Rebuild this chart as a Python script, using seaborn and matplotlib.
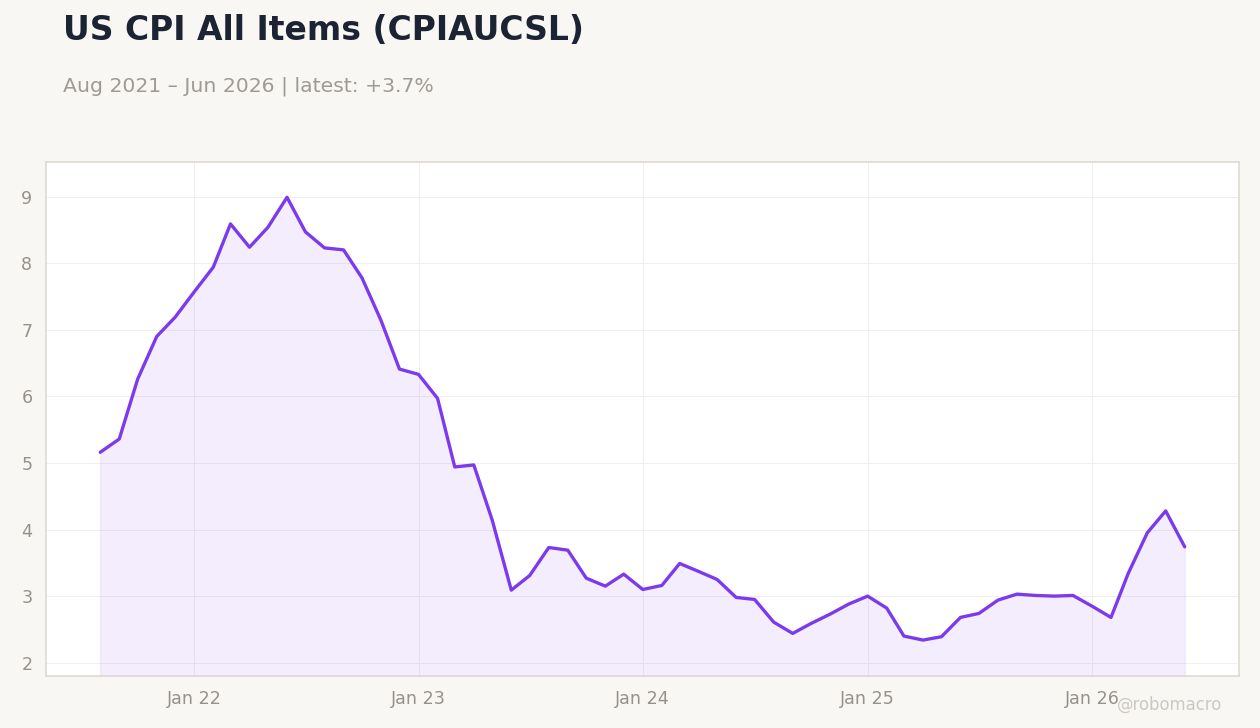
import pandas as pd
import matplotlib.pyplot as plt
import matplotlib.dates as mdates
import seaborn as sns

# CPI YoY %, monthly Aug 2021 .. Jun 2026
start_month = "2021-08-01"
cpi_yoy = [5.16, 5.36, 6.26, 6.90, 7.19, 7.57, 7.94, 8.59, 8.24, 8.54,
           8.99, 8.47, 8.23, 8.20, 7.78, 7.14, 6.41, 6.33, 5.97, 4.94,
           4.97, 4.14, 3.09, 3.31, 3.73, 3.69, 3.27, 3.15, 3.33, 3.10,
           3.16, 3.49, 3.37, 3.25, 2.98, 2.95, 2.61, 2.44, 2.59, 2.73,
           2.88, 3.00, 2.82, 2.40, 2.34, 2.39, 2.68, 2.74, 2.94, 3.03,
           3.01, 3.00, 3.01, 2.85, 2.68, 3.34, 3.95, 4.28, 3.74]
y_ticks = [2, 3, 4, 5, 6, 7, 8, 9]

title = "US CPI All Items (CPIAUCSL)"
subtitle = "Aug 2021 \u2013 Jun 2026 | latest: +3.7%"
watermark = "@robomacro"

purple = "#7c3aed"
bg = "#f8f7f4"

df = pd.DataFrame({
    "date": pd.date_range(start_month, periods=len(cpi_yoy), freq="MS"),
    "value": cpi_yoy,
})

sns.set_style("whitegrid", {
    "grid.color": "#f1efec",
    "axes.edgecolor": "#ddd8d0",
    "axes.facecolor": "white",
    "figure.facecolor": bg,
})
plt.rcParams["font.family"] = ["DejaVu Sans"]

fig = plt.figure(figsize=(9, 5.2), dpi=140)
ax = fig.add_axes([0.0365, 0.0714, 0.9468, 0.7061])

ymin, ymax = 1.8, 9.52
sns.lineplot(data=df, x="date", y="value", ax=ax, color=purple, linewidth=1.7)
ax.fill_between(df["date"], df["value"], ymin, color=purple, alpha=0.09, linewidth=0.6)

ax.set_ylim(ymin, ymax)
ax.margins(x=0.05)
ax.set_yticks(y_ticks)
ax.xaxis.set_major_locator(mdates.YearLocator(month=1))
ax.xaxis.set_major_formatter(mdates.DateFormatter("%b %y"))
ax.grid(True, linewidth=0.5, color="#f1efec")
ax.set_xlabel("")
ax.set_ylabel("")
ax.tick_params(axis="both", colors="#a8a29c", labelcolor="#97918b", labelsize=9,
               length=3, width=0.6, pad=4)
for s in ax.spines.values():
    s.set_linewidth(0.8)
    s.set_color("#ddd8d0")

fig.text(0.05, 0.945, title, fontsize=17, fontweight="bold", color="#1c2433", va="baseline")
fig.text(0.05, 0.874, subtitle, fontsize=10.5, color="#a09a94", va="baseline")
fig.text(0.97, 0.025, watermark, fontsize=8.5, color="#cdc8c2", ha="right", va="baseline")

fig.savefig("out.png", dpi=140, facecolor=bg)
